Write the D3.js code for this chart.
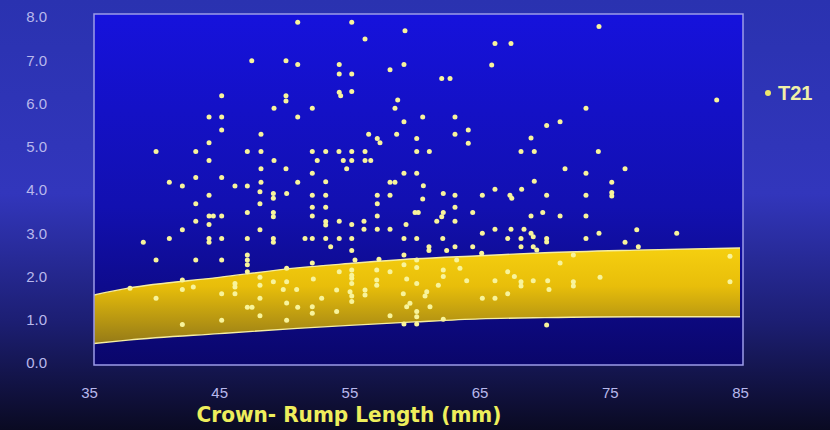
<!DOCTYPE html>
<html>
<head>
<meta charset="utf-8">
<script src="https://cdn.jsdelivr.net/npm/d3@7"></script>
<style>
  body { margin: 0; background: #0a0a22; }
  svg { display: block; }
</style>
</head>
<body>
<svg id="chart" width="830" height="430"></svg>
<script>
var crlT21 = [51.03,47.5,50.13,51.03,45.19,50.13,50.13,49.21,51.03,44.22,45.19,45.19,48.21,44.22,40.15,43.2,47.16,48.21,44.22,49.21,
    48.21,50.13,51.03,41.17,42.17,43.2,45.19,46.21,47.16,48.21,44.22,48.13,49.16,49.16,50.18,43.2,48.13,47.16,44.22,44.55,
    45.19,49.16,49.16,43.2,44.22,42.17,48.13,39.17,41.17,44.22,44.22,45.19,47.16,49.16,49.16,40.15,43.2,45.19,47.16,47.16,
    47.16,47.16,50.18,42.17,42.17,43.01,46.21,46.21,48.13,48.13,49.16,50.18,49.92,50.95,38.15,40.15,45.19,46.21,48.13,50.18,
    47.16,47.52,51.03,48.13,42.17,45.19,50.18,55.18,59.27,56.2,54.22,54.22,55.18,58.12,59.19,62.09,62.73,54.22,54.33,55.18,
    58.71,58.5,52.15,59.19,60.63,63.11,64.13,63.11,64.13,56.48,57.14,57.35,58.63,60.17,52.15,53.18,54.2,55.18,56.2,60.17,
    61.14,52.53,54.53,55.18,56.2,56.64,54.79,52.15,59.19,60.17,53.18,58.12,58.5,60.68,52.15,53.18,57.14,58.12,52.15,53.18,
    57.14,60.63,62.21,63.11,60.04,60.29,62.21,62.09,63.11,52.15,53.18,53.18,54.22,55.18,56.12,57.14,59.35,61.71,63.11,56.12,
    57.14,58.12,51.59,52.15,53.18,54.22,55.18,59.19,60.17,62.17,53.56,55.18,61.11,61.11,62.47,63.11,59.19,55.43,57.27,60.17,
    52.15,63.24,54.22,55.18,55.18,57.1,58.12,59.19,60.17,62.21,62.21,63.49,52.23,55.18,55.18,57.1,57.1,59.4,60.17,61.83,
    64.01,54.02,55.05,55.18,55.18,56.2,56.2,59.14,52.87,60.94,60.81,52.15,52.15,54.02,59.4,59.65,60.17,60.17,61.19,58.12,
    62.21,59.19,60.17,74.17,66.18,67.41,65.93,73.17,71.18,70.15,68.95,68.18,69.2,74.12,71.56,73.17,76.17,69.2,75.15,66.18,
    68.23,65.21,67.33,67.47,70.15,73.17,75.15,75.15,64.47,68.95,69.85,71.18,73.17,65.21,66.18,67.41,68.41,68.95,69.12,67.16,
    68.18,70.15,70.15,73.17,74.17,76.17,77.07,64.47,68.18,69.12,65.16,69.39,71.18,72.2,67.16,67.67,66.18,68.18,68.18,69.12,
    70.23,72.2,72.2,74.25,70.33,67.16,65.21,66.18,70.15,83.21,77.19,80.14,84.23,84.23];
var ntT21 = [7.88,6.99,6.99,6.9,6.18,6.18,6.06,5.89,5.69,5.69,5.69,5.39,5.29,5.09,4.89,4.89,4.89,4.89,4.68,4.68,
    4.49,4.49,4.18,4.18,4.09,4.29,4.29,4.09,4.09,4.18,3.88,3.96,3.92,3.81,3.92,3.68,3.68,3.48,3.4,3.4,
    3.4,3.48,3.38,3.28,3.2,3.08,3.08,2.79,2.88,2.88,2.79,2.88,2.88,2.88,2.79,2.38,2.38,2.38,2.5,2.38,
    2.27,2.11,2.19,1.92,1.7,1.76,1.84,1.76,1.98,1.8,1.88,1.88,1.7,1.7,1.73,1.5,1.6,1.6,1.5,1.39,
    1.29,1.29,1.29,1.09,0.89,0.99,0.99,7.88,7.68,7.49,6.9,6.68,6.68,6.78,6.9,6.58,6.58,6.26,6.18,6.28,
    6.08,5.89,5.89,5.58,5.69,5.69,5.39,5.29,5.08,5.29,5.19,5.09,5.29,5.19,4.89,4.89,4.89,4.89,4.89,4.89,
    4.89,4.68,4.68,4.68,4.68,4.68,4.49,4.39,4.39,4.39,4.19,4.18,4.18,4.1,3.88,3.88,3.88,3.88,3.6,3.6,
    3.68,3.79,3.92,3.88,3.48,3.48,3.48,3.38,3.6,3.4,3.27,3.19,3.28,3.2,3.28,3.4,3.2,3.28,3.28,3.09,
    3.09,3.09,2.88,2.88,2.88,2.88,2.88,2.88,2.88,2.88,2.69,2.6,2.69,2.6,2.6,2.69,2.5,2.38,2.4,2.38,
    2.31,2.38,2.11,2.15,2.03,2.15,2.11,2.27,2.21,2.15,2.0,2.19,1.94,1.96,1.84,1.92,1.8,1.94,1.84,1.8,
    1.9,1.69,1.65,1.55,1.42,1.69,1.57,1.6,1.5,1.65,1.55,1.3,1.15,1.19,1.3,1.38,1.19,1.07,1.3,1.09,
    1.01,0.9,0.9,7.78,7.39,7.39,6.89,5.89,5.58,5.49,5.2,4.89,4.89,4.89,4.49,4.39,4.49,4.2,4.18,4.02,
    4.02,3.88,3.88,3.81,3.88,3.88,3.94,3.86,3.48,3.4,3.48,3.4,3.4,3.0,3.09,3.09,3.09,3.0,2.92,2.88,
    2.88,2.88,2.8,2.88,3.0,2.79,3.08,2.69,2.69,2.69,2.54,2.61,2.31,2.5,2.11,2.0,1.9,1.88,1.78,1.9,
    1.9,1.88,1.78,1.98,1.7,1.6,1.5,1.5,0.88,6.08,2.69,3.0,2.47,1.88];

// reference band (lower / upper limit)
var bandCrl  = [35, 38, 45, 51, 55, 60, 65, 70, 77, 85];
var bandLow  = [0.44, 0.53, 0.68, 0.8, 0.87, 0.95, 1.02, 1.05, 1.07, 1.07];
var bandHigh = [1.55, 1.73, 1.98, 2.2, 2.3, 2.41, 2.48, 2.55, 2.61, 2.66];

var xTicks = [35, 45, 55, 65, 75, 85];
var yTicks = [0, 1, 2, 3, 4, 5, 6, 7, 8];
var seriesName = "T21";
var xTitle = "Crown- Rump Length (mm)";

var svg = d3.select("#chart");
var W = 830, H = 430;
var frame = {left: 94, top: 14, right: 743, bottom: 365};

var x = d3.scaleLinear().domain([35, 85]).range([89, 740]);
var y = d3.scaleLinear().domain([0, 8]).range([363, 17]);

var defs = svg.append("defs");

var bg = defs.append("linearGradient").attr("id", "bg")
    .attr("x1", 0).attr("y1", 0).attr("x2", 0).attr("y2", 1);
bg.append("stop").attr("offset", "0%").attr("stop-color", "#2a32b0");
bg.append("stop").attr("offset", "45%").attr("stop-color", "#3236bc");
bg.append("stop").attr("offset", "75%").attr("stop-color", "#1c1e72");
bg.append("stop").attr("offset", "100%").attr("stop-color", "#0a0a22");

var plotBg = defs.append("linearGradient").attr("id", "plotBg")
    .attr("x1", 0).attr("y1", 0).attr("x2", 0).attr("y2", 1);
plotBg.append("stop").attr("offset", "0%").attr("stop-color", "#1612dc");
plotBg.append("stop").attr("offset", "55%").attr("stop-color", "#1210b0");
plotBg.append("stop").attr("offset", "100%").attr("stop-color", "#0a066a");

var bandFill = defs.append("linearGradient").attr("id", "bandFill")
    .attr("gradientUnits", "userSpaceOnUse")
    .attr("x1", 0).attr("y1", y(2.7)).attr("x2", 0).attr("y2", y(0.4));
bandFill.append("stop").attr("offset", "0%").attr("stop-color", "#f6d010");
bandFill.append("stop").attr("offset", "40%").attr("stop-color", "#e8be0a");
bandFill.append("stop").attr("offset", "100%").attr("stop-color", "#927818");

defs.append("clipPath").attr("id", "plotClip")
  .append("rect")
    .attr("x", frame.left).attr("y", frame.top)
    .attr("width", frame.right - frame.left)
    .attr("height", frame.bottom - frame.top);

svg.append("rect")
    .attr("width", W).attr("height", H)
    .attr("fill", "url(#bg)");

svg.append("rect")
    .attr("x", frame.left).attr("y", frame.top)
    .attr("width", frame.right - frame.left)
    .attr("height", frame.bottom - frame.top)
    .attr("fill", "url(#plotBg)");

// band between the two limit curves
var band = bandCrl.map(function(c, i) { return {c: c, lo: bandLow[i], hi: bandHigh[i]}; });

var area = d3.area()
    .curve(d3.curveMonotoneX)
    .x(function(d) { return x(d.c); })
    .y0(function(d) { return y(d.lo); })
    .y1(function(d) { return y(d.hi); });

var gBand = svg.append("g").attr("clip-path", "url(#plotClip)");

gBand.append("path")
    .datum(band)
    .attr("d", area)
    .attr("fill", "url(#bandFill)");

["lo", "hi"].forEach(function(k) {
    gBand.append("path")
        .datum(band)
        .attr("d", d3.line()
            .curve(d3.curveMonotoneX)
            .x(function(d) { return x(d.c); })
            .y(function(d) { return y(d[k]); }))
        .attr("fill", "none")
        .attr("stroke", "#f6eea0")
        .attr("stroke-width", 1.4);
});

// points
svg.append("g")
    .attr("clip-path", "url(#plotClip)")
  .selectAll("circle")
    .data(crlT21.map(function(c, i) { return [c, ntT21[i]]; }))
    .enter().append("circle")
    .attr("cx", function(d) { return x(d[0]); })
    .attr("cy", function(d) { return y(d[1]); })
    .attr("r", 2.5)
    .attr("fill", "#f8f49c");

// frame
svg.append("rect")
    .attr("x", frame.left).attr("y", frame.top)
    .attr("width", frame.right - frame.left)
    .attr("height", frame.bottom - frame.top)
    .attr("fill", "none")
    .attr("stroke", "#9c9ce8")
    .attr("stroke-width", 1.5);

// axes
var xAxis = svg.append("g")
    .attr("transform", "translate(0," + frame.bottom + ")")
    .call(d3.axisBottom(x).tickValues(xTicks).tickSize(0).tickPadding(22));

var yAxis = svg.append("g")
    .attr("transform", "translate(52,0)")
    .call(d3.axisLeft(y).tickValues(yTicks).tickFormat(d3.format(".1f")).tickSize(0).tickPadding(5));

[xAxis, yAxis].forEach(function(g) {
    g.select(".domain").remove();
    g.selectAll("text")
        .attr("fill", "#b8b8ec")
        .style("font-family", "'Liberation Sans', Arial, sans-serif")
        .style("font-size", "15px");
});

// axis title
svg.append("text")
    .attr("x", 349)
    .attr("y", 422)
    .attr("text-anchor", "middle")
    .attr("textLength", 305)
    .attr("lengthAdjust", "spacingAndGlyphs")
    .attr("fill", "#eeee5c")
    .style("font-family", "'DejaVu Sans', sans-serif")
    .style("font-weight", "bold")
    .style("font-size", "21px")
    .text(xTitle);

// legend
var legend = svg.append("g").attr("transform", "translate(768,93)");
legend.append("circle")
    .attr("r", 3)
    .attr("fill", "#eee66c");
legend.append("text")
    .attr("x", 10)
    .attr("dy", "0.36em")
    .attr("fill", "#f0f0a8")
    .style("font-family", "'Liberation Sans', Arial, sans-serif")
    .style("font-weight", "bold")
    .style("font-size", "20px")
    .text(seriesName);
</script>
</body>
</html>
